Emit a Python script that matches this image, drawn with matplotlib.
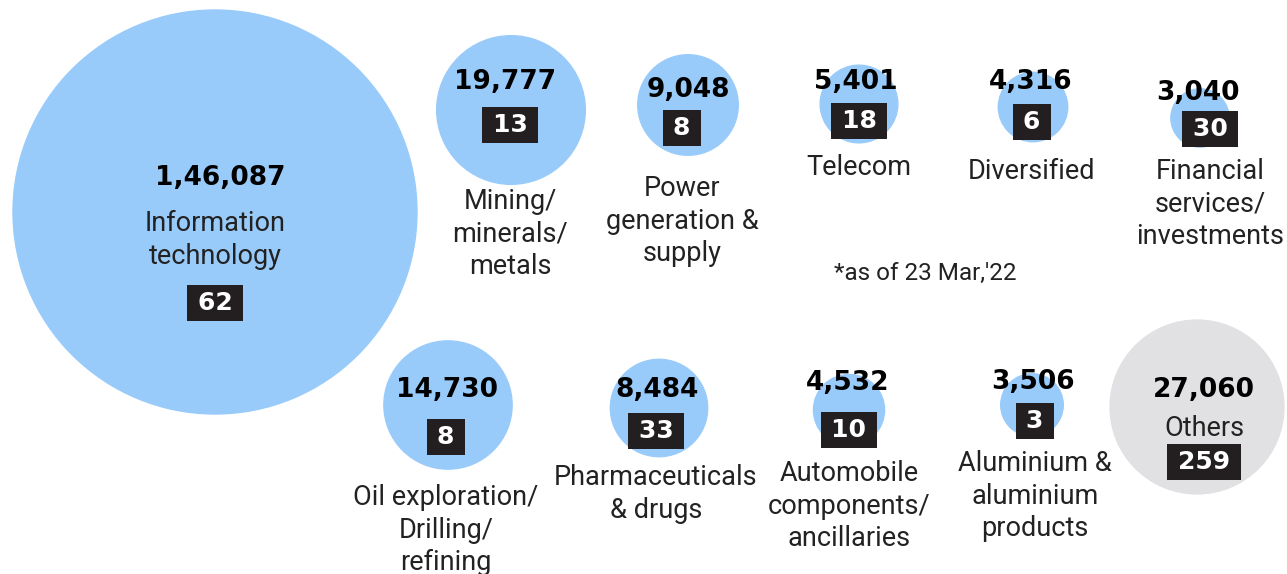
import numpy as np
import matplotlib.pyplot as plt
from matplotlib.patches import Circle

# Market cap (Rs crore) by sector, number of companies, sector names
sectors = ["Information\ntechnology", "Mining/\nminerals/\nmetals", "Power\ngeneration &\nsupply",
           "Telecom", "Diversified", "Financial\nservices/\ninvestments",
           "Oil exploration/\nDrilling/\nrefining", "Pharmaceuticals\n& drugs",
           "Automobile\ncomponents/\nancillaries", "Aluminium &\naluminium\nproducts", "Others"]
values = [146087, 19777, 9048, 5401, 4316, 3040, 14730, 8484, 4532, 3506, 27060]
value_labels = ["1,46,087", "19,777", "9,048", "5,401", "4,316", "3,040",
                "14,730", "8,484", "4,532", "3,506", "27,060"]
counts = [62, 13, 8, 18, 6, 30, 8, 33, 10, 3, 259]

# layout (pixel coords, y down)
centers = [(215, 212), (511, 110), (688, 105), (859, 104), (1033, 107), (1200, 118),
           (448, 405), (659, 408), (849, 410), (1032, 405), (1197, 407)]
value_y = [178, 82, 90, 82, 82, 93, 390, 390, 383, 382, 390]
value_x = [220, 505, 688, 856, 1031, 1198, 447, 657, 848, 1033, 1204]
box_y = [303, 125, 128, 121, 122, 129, 437, 431, 430, 421, 462]
label_y = [220, 198, 185, 164, 168, 168, 494, 474, 470, 460, 425]  # first line centre
label_x = [215, 510, 682, 859, 1032, 1210, 446, 656, 849, 1035, 1204]

BLUE = "#99CBFA"
GREY = "#E1E1E3"
DARK = "#231F20"

fig = plt.figure(figsize=(12.87, 5.74), dpi=100)
ax = fig.add_axes([0, 0, 1, 1])
ax.set_xlim(0, 1287)
ax.set_ylim(574, 0)
ax.set_aspect("equal")
ax.axis("off")

scale = 202 / np.sqrt(values[0])
for i, v in enumerate(values):
    r = scale * np.sqrt(v)
    col = GREY if sectors[i] == "Others" else BLUE
    ax.add_patch(Circle(centers[i], r, color=col, zorder=1))

    ax.text(value_x[i], value_y[i], value_labels[i], ha="center", va="center",
            fontsize=19, fontweight="bold", family="DejaVu Sans", color="black", zorder=3)
    ax.text(label_x[i], box_y[i], "\u2009" + str(counts[i]) + "\u2009", ha="center", va="center",
            fontsize=18, fontweight="bold", family="DejaVu Sans", color="white", zorder=3,
            bbox=dict(boxstyle="square,pad=0.23", fc=DARK, ec="none"))
    ax.text(label_x[i], label_y[i] - 10, sectors[i], ha="center", va="top",
            fontsize=19.5, family="Roboto", color="#222222", linespacing=1.27, zorder=3)

ax.text(925, 273, "*as of 23 Mar,'22", ha="center", va="center", fontsize=17.5,
        family="Roboto", color="#222222")

fig.savefig("out.png", dpi=100, facecolor="white")
